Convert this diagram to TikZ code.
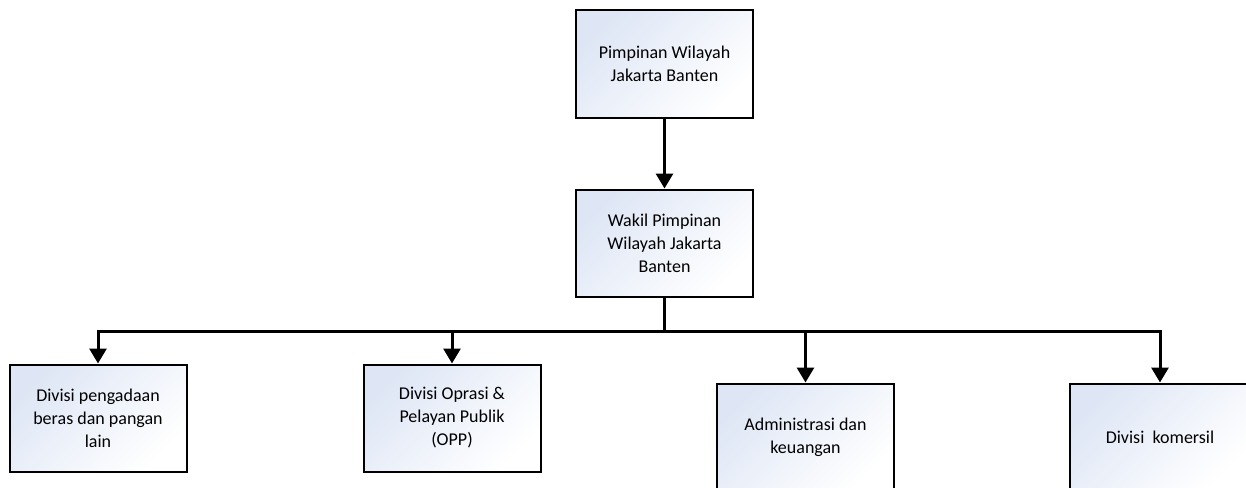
\documentclass[tikz,border=0pt]{standalone}
\usepackage{fontspec}
\setmainfont{Carlito}
\usetikzlibrary{positioning,arrows.meta}

\definecolor{boxblue}{RGB}{222,230,245}

\begin{document}
\begin{tikzpicture}[x=1pt,y=1pt,
unit/.style={rectangle, draw=black, line width=2pt, top color=boxblue, bottom color=white, shading angle=45,
  minimum width=177pt, minimum height=107pt, align=center, inner sep=0pt,
  font=\fontsize{18}{23}\selectfont},
link/.style={line width=3pt},
arr/.style={line width=3pt, -{Triangle[width=17pt,length=15pt]}}
]
\useasboundingbox (0,0) rectangle (1246,-487);

\node[unit](pimpinan) at (664.5,-64){Pimpinan Wilayah\\Jakarta Banten};
\node[unit](wakil)[below=70pt of pimpinan]{Wakil Pimpinan\\Wilayah Jakarta\\Banten};

\node[unit](pengadaan) at (98,-418){Divisi pengadaan\\beras dan pangan\\lain};
\node[unit](opp) at (452,-418){Divisi Oprasi \&\\Pelayan Publik\\(OPP)};
\node[unit](keuangan) at (805.5,-437){Administrasi dan\\keuangan};
\node[unit, minimum width=180pt](komersil) at (1160,-437){Divisi~~komersil};

\draw[arr] (pimpinan.south) -- (wakil.north);
\draw[link] (wakil.south) -- ++(0,-34) coordinate (bus);
\draw[link] (pengadaan.north |- bus) -- (komersil.north |- bus);

\draw[arr] (bus) -| (pengadaan.north);
\draw[arr] (bus) -| (opp.north);
\draw[arr] (bus) -| (keuangan.north);
\draw[arr] (bus) -| (komersil.north);
\end{tikzpicture}
\end{document}
